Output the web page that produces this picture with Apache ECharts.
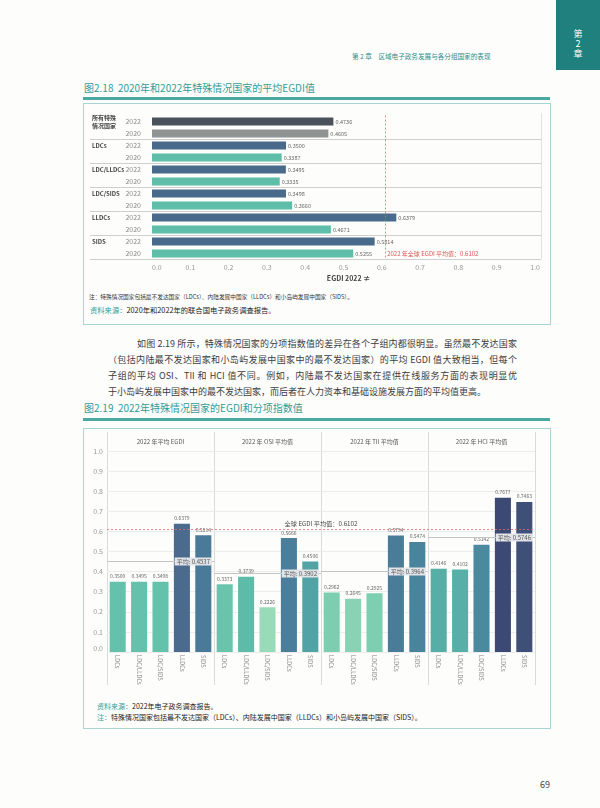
<!DOCTYPE html>
<html><head><meta charset="utf-8">
<script src="https://cdn.jsdelivr.net/npm/echarts@6/dist/echarts.min.js"></script>
<style>
body{margin:0;padding:0;background:#fff;}
#page{position:relative;width:600px;height:808px;background:#fdfdfc;overflow:hidden;font-family:"Noto Sans CJK SC","Noto Sans",sans-serif;}
.abs{position:absolute;white-space:nowrap;}
.teal{color:#2f9c98;}
.para{position:absolute;left:108px;width:409px;font-size:9px;line-height:16px;color:#3c3c3c;white-space:normal;text-align:justify;box-sizing:border-box;}
.j{text-align-last:justify;}
</style></head>
<body><div id="page">
<div class="abs" style="left:556px;top:0;width:44px;height:70px;background:#1f807d;"></div>
<div class="abs" style="left:556px;top:29px;width:44px;text-align:center;color:#fff;font-size:9px;line-height:10px;white-space:normal;">第<br>2<br>章</div>
<div class="abs teal" style="left:352px;top:52px;font-size:6.6px;line-height:9px;color:#2b8f8b;">第 2 章　区域电子政务发展与各分组国家的表现</div>

<div class="abs teal" style="left:84px;top:82px;font-size:10px;line-height:12px;">图2.18&nbsp;&nbsp;2020年和2022年特殊情况国家的平均EGDI值</div>
<div class="abs" style="left:83px;top:97px;width:467px;height:3px;background:#4ba8a3;"></div>
<div class="abs" style="left:83px;top:103px;width:466px;height:220px;border:1px solid #a9d5d1;"></div>
<div class="abs" style="left:89px;top:293px;font-size:5.7px;line-height:8px;color:#333;">注：特殊情况国家包括最不发达国家（LDCs）、内陆发展中国家（LLDCs）和小岛屿发展中国家（SIDS）。</div>
<div class="abs" style="left:90px;top:305px;font-size:7.3px;line-height:10px;color:#222;"><span class="teal">资料来源：</span>2020年和2022年的联合国电子政务调查报告。</div>

<div class="para j" style="top:336px;padding-left:29px;">如图 2.19 所示，特殊情况国家的分项指数值的差异在各个子组内都很明显。虽然最不发达国家</div>
<div class="para j" style="top:352px;">（包括内陆最不发达国家和小岛屿发展中国家中的最不发达国家）的平均 EGDI 值大致相当，但每个</div>
<div class="para j" style="top:368px;">子组的平均 OSI、TII 和 HCI 值不同。例如，内陆最不发达国家在提供在线服务方面的表现明显优</div>
<div class="para" style="top:384px;">于小岛屿发展中国家中的最不发达国家，而后者在人力资本和基础设施发展方面的平均值更高。</div>

<div class="abs teal" style="left:84px;top:402px;font-size:10px;line-height:12px;">图2.19&nbsp;&nbsp;2022年特殊情况国家的EGDI和分项指数值</div>
<div class="abs" style="left:83px;top:418px;width:467px;height:3px;background:#4ba8a3;"></div>
<div class="abs" style="left:83px;top:428px;width:466px;height:299px;border:1px solid #a9d5d1;"></div>
<div class="abs" style="left:97px;top:701px;font-size:7px;line-height:10px;color:#222;"><span class="teal">资料来源：</span>2022年电子政务调查报告。</div>
<div class="abs" style="left:97px;top:712px;font-size:7px;line-height:10px;color:#222;"><span class="teal">注：</span>特殊情况国家包括最不发达国家（LDCs）、内陆发展中国家（LLDCs）和小岛屿发展中国家（SIDS）。</div>

<div class="abs" style="left:540px;top:779px;font-size:9px;line-height:12px;color:#444;">69</div>

<div id="chart" class="abs" style="left:0;top:0;width:600px;height:808px;"></div>
</div>
<script>
// ---- Figure 2.18 data ----
const groups18 = ['所有特殊\n情况国家', 'LDCs', 'LDC/LLDCs', 'LDC/SIDS', 'LLDCs', 'SIDS'];
const years18 = ['2022', '2020'];
const egdi2022 = [0.4736, 0.3500, 0.3495, 0.3498, 0.6379, 0.5814];
const egdi2020 = [0.4605, 0.3387, 0.3335, 0.3660, 0.4671, 0.5255];
const globalEgdi2022 = 0.6102;
const axisMin = 0, axisMax = 1, axisStep = 0.1;

// ---- Figure 2.19 data ----
const panels19 = ['2022 年平均 EGDI', '2022 年 OSI 平均值', '2022 年 TII 平均值', '2022 年 HCI 平均值'];
const groups19 = ['LDCs', 'LDC/LLDCs', 'LDC/SIDS', 'LLDCs', 'SIDS'];
const egdi19 = [0.3500, 0.3495, 0.3498, 0.6379, 0.5814];
const osi19 = [0.3373, 0.3739, 0.2226, 0.5666, 0.4506];
const tii19 = [0.2962, 0.2645, 0.2925, 0.5794, 0.5474];
const hci19 = [0.4146, 0.4102, 0.5342, 0.7677, 0.7463];
const avg19 = [0.4537, 0.3902, 0.3964, 0.5746];
const globalEgdiLabel = '全球 EGDI 平均值：0.6102';

const FONT = '"Noto Sans CJK SC","Noto Sans",sans-serif';

// rows for fig 2.18
const rowKeys = [], rowVals = [];
groups18.forEach((g, i) => {
  years18.forEach((y, j) => {
    rowKeys.push(i + '|' + y);
    rowVals.push(j === 0 ? egdi2022[i] : egdi2020[i]);
  });
});
function rowColor(idx) {
  const g = Math.floor(idx / 2), y = idx % 2;
  if (g === 0) return y === 0 ? '#4c5259' : '#8f9392';
  return y === 0 ? '#4a6a8b' : '#5fbea7';
}

const panelLeft = 107, panelW = 107, plotTop19 = 451, plotH19 = 201;
const series19 = [egdi19, osi19, tii19, hci19];

const grids = [
  {left: 152, width: 383, top: 115.5, height: 144},
  {left: 90, width: 451, top: 115.5, height: 144}
];
const xAxes = [
  {gridIndex: 0, type: 'value', min: axisMin, max: axisMax, interval: axisStep,
   axisLine: {show: false}, axisTick: {show: false}, splitLine: {show: false},
   axisLabel: {fontSize: 7, color: '#999', margin: 4, alignMinLabel: 'left', formatter: v => v.toFixed(1)},
   name: 'EGDI 2022 ≠', nameLocation: 'middle', nameGap: 15,
   nameTextStyle: {fontSize: 7, fontWeight: 'bold', color: '#444', padding: [0, 0, 0, 10]}},
  {gridIndex: 1, type: 'value', min: 0, max: 1, show: false}
];
const yAxes = [
  {gridIndex: 0, type: 'category', data: rowKeys, inverse: true, position: 'left',
   axisLine: {show: false}, axisTick: {show: false}, splitLine: {show: false},
   axisLabel: {fontSize: 7, color: '#888', margin: 11, formatter: v => v.split('|')[1]}},
  {gridIndex: 0, type: 'category', data: rowKeys, inverse: true, position: 'left',
   axisLine: {show: false}, axisTick: {show: false}, splitLine: {show: false},
   axisLabel: {fontSize: 6, fontWeight: 'bold', color: '#444', margin: 60, align: 'left', lineHeight: 8.5, interval: 0,
     formatter: v => { const p = v.split('|'); return p[1] === years18[0] ? groups18[+p[0]] : ''; }}},
  {gridIndex: 1, type: 'category', data: rowKeys, inverse: true, position: 'left',
   axisLine: {show: false}, axisTick: {show: false}, axisLabel: {show: false},
   splitLine: {show: true, interval: (i) => i > 0 && i % 2 === 0, lineStyle: {color: '#cfcfcf', width: 1}}}
];
panels19.forEach((p, k) => {
  grids.push({left: panelLeft + panelW * k, width: panelW, top: plotTop19, height: plotH19});
  xAxes.push({gridIndex: 2 + k, type: 'category', data: groups19,
    axisLine: {show: false}, axisTick: {show: false},
    axisLabel: {rotate: -90, fontSize: 5.8, color: '#888', margin: 3, interval: 0}});
  yAxes.push({gridIndex: 2 + k, type: 'value', min: axisMin, max: axisMax, interval: axisStep,
    axisLine: {show: false}, axisTick: {show: false},
    splitLine: {show: true, lineStyle: {color: '#ececec', width: 1}},
    axisLabel: {show: k === 0, fontSize: 7, color: '#999', margin: 4, verticalAlignMinLabel: 'bottom', formatter: v => v.toFixed(1)}});
});
grids.push({left: panelLeft, width: panelW * 4, top: plotTop19, height: plotH19});
xAxes.push({gridIndex: 6, type: 'value', min: 0, max: 1, show: false});
yAxes.push({gridIndex: 6, type: 'value', min: axisMin, max: axisMax, show: false});

const series = [{
  type: 'bar', xAxisIndex: 0, yAxisIndex: 0, data: rowVals, barWidth: 8,
  itemStyle: {color: p => rowColor(p.dataIndex)},
  label: {show: true, position: 'right', distance: 2, fontSize: 5.5, color: '#666', formatter: p => p.value.toFixed(4)},
  markLine: {silent: true, symbol: ['none', 'none'], label: {show: false},
    lineStyle: {color: '#e06a6a', type: [2, 2], width: 0.8}, data: [{xAxis: globalEgdi2022}]},
  markPoint: {silent: true, symbol: 'rect', symbolSize: [1, 1], itemStyle: {color: 'rgba(0,0,0,0)'},
    label: {show: true, position: 'right', distance: 1, fontSize: 6, color: '#d9534f',
      formatter: '2022 年全球 EGDI 平均值：' + globalEgdi2022.toFixed(4)},
    data: [{coord: [globalEgdi2022, rowKeys[rowKeys.length - 1]]}]}
}];
series19.forEach((vals, k) => {
  series.push({
    type: 'bar', xAxisIndex: 2 + k, yAxisIndex: 3 + k, data: vals, barCategoryGap: '25%',
    label: {show: true, position: 'top', distance: 3, fontSize: 5, color: '#666', formatter: p => p.value.toFixed(4)},
    markLine: {silent: true, symbol: ['none', 'none'], z: 10,
      lineStyle: {color: '#c4c4c4', type: 'solid', width: 1},
      label: {position: 'insideEnd', distance: 2, fontSize: 6, color: '#555', backgroundColor: '#e1e4e8',
        padding: [1, 2], formatter: '平均: ' + avg19[k].toFixed(4)},
      data: [{yAxis: avg19[k]}]}
  });
});
series.push({
  type: 'line', xAxisIndex: 6, yAxisIndex: 7, data: [],
  markLine: {silent: true, symbol: ['none', 'none'],
    lineStyle: {color: '#e06a6a', type: [2, 2], width: 0.8},
    label: {position: 'insideMiddleTop', distance: 3, fontSize: 6.2, color: '#444', formatter: globalEgdiLabel},
    data: [{yAxis: globalEgdi2022}]}
});

const graphics = [];
for (let k = 0; k <= 4; k++) {
  const x = panelLeft + panelW * k + 0.5;
  graphics.push({type: 'line', silent: true, shape: {x1: x, y1: 432, x2: x, y2: 685}, style: {stroke: '#dadada', lineWidth: 1}});
}
panels19.forEach((t, k) => {
  graphics.push({type: 'text', silent: true, x: panelLeft + panelW * k + panelW / 2, y: 441.5,
    style: {text: t, fontSize: 6, fill: '#555', align: 'center', verticalAlign: 'middle', fontFamily: FONT}});
});
graphics.push({type: 'line', silent: true, shape: {x1: 541.5, y1: 113, x2: 541.5, y2: 259.5}, style: {stroke: '#e2e2e2', lineWidth: 1}});

const chart = echarts.init(document.getElementById('chart'));
chart.setOption({
  animation: false,
  textStyle: {fontFamily: FONT},
  grid: grids, xAxis: xAxes, yAxis: yAxes,
  visualMap: {type: 'continuous', show: false, seriesIndex: [1, 2, 3, 4], dimension: 1, min: 0.22, max: 0.77,
    inRange: {color: ['#9adbb8', '#80cfb2', '#61bfaa', '#54aaa6', '#4c96a4', '#4a7f9a', '#4b6c8e', '#435b82', '#3c4873']}},
  series: series,
  graphic: graphics
});
</script>
</body></html>
